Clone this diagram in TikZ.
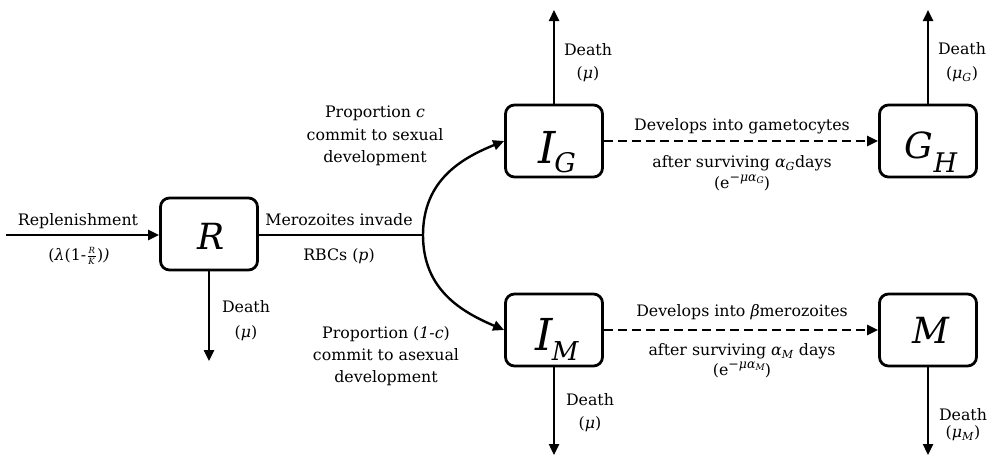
\documentclass[tikz,border=0pt]{standalone}
\usepackage{fontspec}
\setmainfont{DejaVu Serif}
\usetikzlibrary{arrows.meta}
\newcommand{\sz}[1]{\fontsize{#1}{#1}\selectfont}
\newcommand{\expo}[1]{(e\raisebox{6.5pt}{\sz{12.5}−\textit{μα}\raisebox{-2.4pt}{\sz{9}\textit{#1}}})}
\newcommand{\rk}{\kern1.5pt\raisebox{-4.5pt}{\vbox{\hbox to 8pt{\hss\sz{8.5}\textit{R}\hss}\kern1.8pt\hrule height 0.6pt\kern2.2pt\hbox to 8pt{\hss\sz{8.5}\textit{K}\hss}}}\kern1.5pt}
\begin{document}
\begin{tikzpicture}[x=1pt,y=-1pt,
  box/.style={draw, line width=2.8pt, rounded corners=9pt, inner sep=0pt,
              minimum width=97pt, minimum height=72pt},
  flow/.style={line width=2.4pt, -{Triangle[length=11pt,width=10pt]}},
  plain/.style={line width=2.4pt},
  dash2/.style={dash pattern=on 9pt off 5pt},
  lbl/.style={inner sep=0pt, anchor=base, font=\fontsize{15.8}{20}\selectfont},
  sym/.style={inner sep=0pt, anchor=base, font=\itshape},
]
\useasboundingbox (0,0) rectangle (990,456);

% boxes
\node[box] (R)  at (209,234) {};
\node[box] (IG) at (554,141) {};
\node[box] (GH) at (928,141) {};
\node[box] (IM) at (554,330) {};
\node[box] (M)  at (928,330) {};

% box symbols
\node[sym] (sR)  at (211,249) {\sz{36}R};
\node[sym] (sIG) at (557,163) {\sz{44}I\kern-1pt\raisebox{-9pt}{\sz{27}G}};
\node[sym] (sGH) at (931,158) {\sz{36}G\raisebox{-14pt}{\sz{27}H}};
\node[sym] (sIM) at (557,350) {\sz{44}I\kern-1pt\raisebox{-10pt}{\sz{26}M}};
\node[sym] (sM)  at (931,343) {\sz{36}M};

% coordinates
\coordinate (src) at (6,235);
\coordinate (J) at (423,235);
\coordinate (dR) at (209,361);
\coordinate (dIG) at (554,10);
\coordinate (dGH) at (928,10);
\coordinate (dIM) at (554,455);
\coordinate (dM) at (928,455);

% connectors
\draw[flow] (src) -- (src -| R.west);
\draw[plain] (R.east |- J) -- (J);
\draw[flow] (J) .. controls (423,180) and (462,158) .. (IG.west);
\draw[flow] (J) .. controls (423,290) and (462,312) .. (IM.west);
\draw[flow] (R.south) -- (dR);
\draw[flow] (IG.north) -- (dIG);
\draw[flow] (GH.north) -- (dGH);
\draw[flow] (IM.south) -- (dIM);
\draw[flow] (M.south) -- (dM);
\draw[flow, dash2] (IG.east) -- (GH.west);
\draw[flow, dash2] (IM.east) -- (M.west);

% labels
\node[lbl] (t1) at (78,225) {Replenishment};
\node[lbl] (t2) at (79,260) {(\textit{λ}(1-\rk)\textit{)}};
\node[lbl] (t3) at (339,225) {Merozoites invade};
\node[lbl] (t4) at (339,260) {RBCs (\textit{p})};
\node[lbl] (t5) at (246,312) {Death};
\node[lbl] (t6) at (246,337) {(\textit{μ})};

\node[lbl] (t7) at (375,117) {Proportion \textit{c}};
\node[lbl] (t8) at (375,140) {commit to sexual};
\node[lbl] (t9) at (375,162) {development};

\node[lbl] (t10) at (386,338) {Proportion (\textit{1-c})};
\node[lbl] (t11) at (386,360) {commit to asexual};
\node[lbl] (t12) at (386,382) {development};

\node[lbl] (t13) at (588,55) {Death};
\node[lbl] (t14) at (588,78) {(\textit{μ})};
\node[lbl] (t15) at (962,54) {Death};
\node[lbl] (t16) at (962,78) {(\textit{μ}\textsubscript{\textit{G}})};

\node[lbl] (t17) at (742,130) {Develops into gametocytes};
\node[lbl] (t18) at (742,167) {after surviving \textit{α}\textsubscript{\textit{G}}days};
\node[lbl] (t19) at (742,188) {\expo{G}};

\node[lbl] (t20) at (742,316) {Develops into \textit{β}merozoites};
\node[lbl] (t21) at (742,355) {after surviving \textit{α}\textsubscript{\textit{M}} days};
\node[lbl] (t22) at (742,375) {\expo{M}};

\node[lbl] (t23) at (590,405) {Death};
\node[lbl] (t24) at (590,428) {(\textit{μ})};
\node[lbl] (t25) at (963,420) {Death};
\node[lbl] (t26) at (963,437) {(\textit{μ}\textsubscript{\textit{M}})};
\end{tikzpicture}
\end{document}
